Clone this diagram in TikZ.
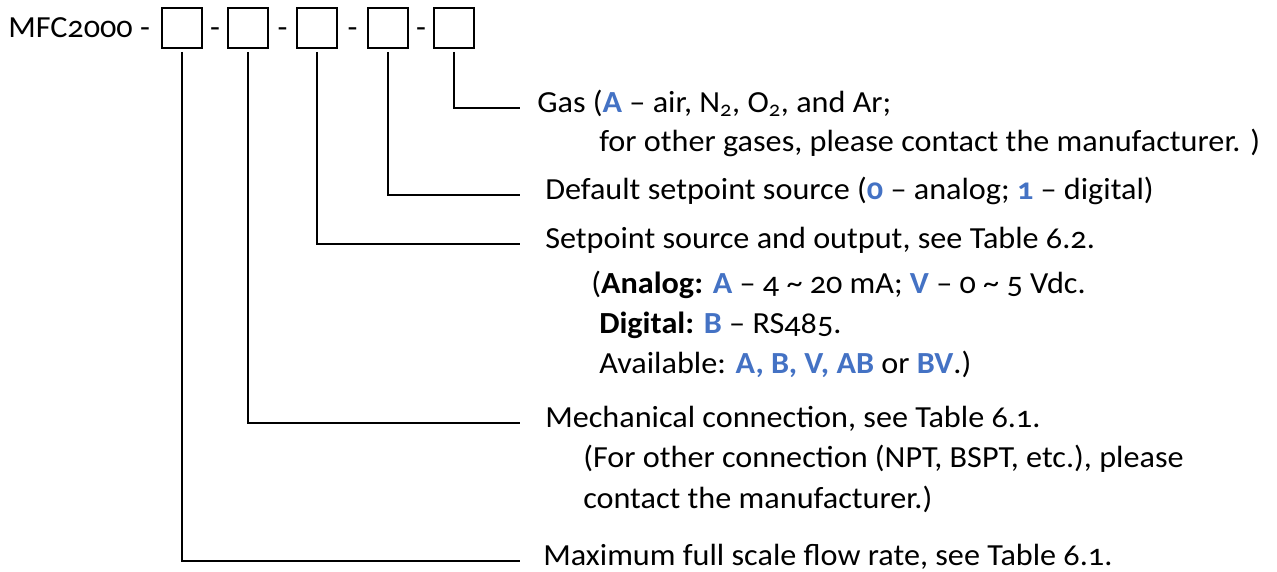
\documentclass[tikz,border=0pt]{standalone}
\usepackage{fontspec}
\setmainfont{Carlito}[Numbers=OldStyle, FakeStretch=1.05]
\usepackage{xcolor}
\usetikzlibrary{calc}

\definecolor{keyblue}{HTML}{4472C4}
\newcommand{\kw}[1]{\textcolor{keyblue}{\bfseries #1}}

\begin{document}
\begin{tikzpicture}[
  x=0.75pt, y=-0.75pt,
  font=\fontsize{23}{27}\selectfont,
  slot/.style={
    draw=black, line width=1.7pt, minimum size=30pt, inner sep=0pt
  },
  lead/.style={
    line width=1.4pt, draw=black, shorten <=2pt
  },
  desc/.style={
    anchor=base west, inner sep=0pt, text height=0.85em, text depth=0.2em
  }
]
  \useasboundingbox (0,0) rectangle (1277,571);

  % Model code
  \node[anchor=base west, inner sep=0pt] (model) at (8,37) {MFC2000 -};
  \foreach \n/\x in {b1/182, b2/248, b3/317, b4/388, b5/454} {
    \node[slot] (\n) at (\x,28) {};
  }
  \foreach \a/\b [count=\i] in {b1/b2, b2/b3, b3/b4, b4/b5} {
    \node[anchor=base, inner sep=0pt] (d\i) at ($(\a.east)!0.5!(\b.west) + (0,9)$) {-};
  }

  % Descriptions
  \node[desc] (gas) at (537,112) {Gas (\kw{A} -- air, N\textsubscript{2}, O\textsubscript{2}, and Ar;};
  \node[desc] (gas2) at (599,151) {for other gases, please contact the manufacturer. )};
  \node[desc] (dflt) at (545,199) {Default setpoint source (\kw{0} -- analog; \kw{1} -- digital)};
  \node[desc] (spt) at (545,248) {Setpoint source and output, see Table 6.2.};
  \node[desc] (spt2) at (591,293) {(\textbf{Analog:} \kw{A} -- 4 \textasciitilde{} 20 mA; \kw{V} -- 0 \textasciitilde{} 5 Vdc.};
  \node[desc] (spt3) at (599,333) {\textbf{Digital:} \kw{B} -- RS485.};
  \node[desc] (spt4) at (599,373) {Available: \kw{A, B, V, AB} or \kw{BV}.)};
  \node[desc] (mech) at (545,427) {Mechanical connection, see Table 6.1.};
  \node[desc] (mech2) at (583,467) {(For other connection (NPT, BSPT, etc.), please};
  \node[desc] (mech3) at (583,508) {contact the manufacturer.)};
  \node[desc] (rate) at (543,565) {Maximum full scale flow rate, see Table 6.1.};

  % Leaders
  \coordinate (stop) at (520,0);
  \foreach \b/\d in {b5/gas, b4/dflt, b3/spt, b2/mech, b1/rate} {
    \draw[lead] (\b.south) |- (\d.west -| stop);
  }

\end{tikzpicture}
\end{document}
